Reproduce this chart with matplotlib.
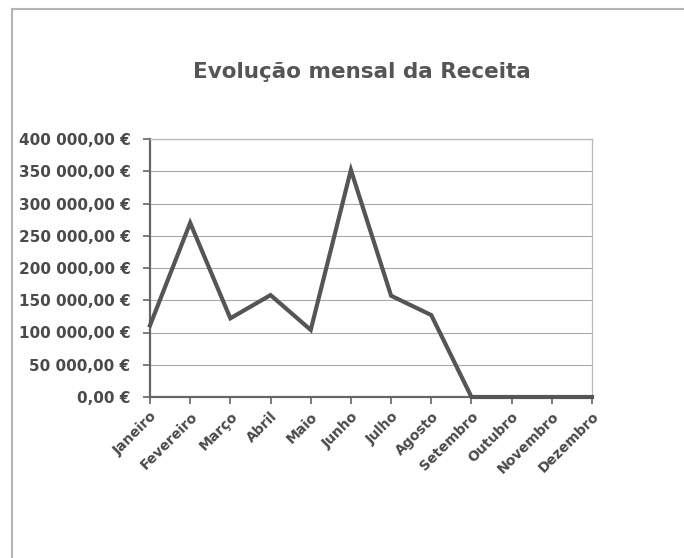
import matplotlib
matplotlib.use("Agg")
import matplotlib.pyplot as plt
from matplotlib.lines import Line2D
from matplotlib.ticker import FuncFormatter

meses = ["Janeiro", "Fevereiro", "Março", "Abril", "Maio", "Junho",
         "Julho", "Agosto", "Setembro", "Outubro", "Novembro", "Dezembro"]
receita = [111000, 270000, 122000, 158000, 104000, 352000,
           157000, 127000, 0, 0, 0, 0]
yticks = [0, 50000, 100000, 150000, 200000, 250000, 300000, 350000, 400000]

cinza = "#555555"

def euro(v, pos):
    s = "{:,.2f}".format(v).replace(",", " ").replace(".", ",")
    return s + " €"

fig = plt.figure(figsize=(6.84, 5.58), dpi=100)
ax = fig.add_axes([150/684, 1-397/558, 442/684, 258/558])

x = list(range(len(meses)))
ax.plot(x, receita, color=cinza, lw=3.0, solid_joinstyle="miter", zorder=3, clip_on=False)

ax.set_xlim(0, 11)
ax.set_ylim(0, 400000)
ax.set_yticks(yticks)
ax.yaxis.set_major_formatter(FuncFormatter(euro))
ax.set_xticks(x)
ax.set_xticklabels(meses, rotation=45, ha="right", va="top", rotation_mode="anchor")

ax.grid(axis="y", color="#a8a8a8", lw=0.8)
ax.set_axisbelow(True)

for s in ["left", "bottom"]:
    ax.spines[s].set_color("#666666")
    ax.spines[s].set_linewidth(1.6)
for s in ["top", "right"]:
    ax.spines[s].set_color("#b8b8b8")
    ax.spines[s].set_linewidth(0.9)

ax.tick_params(axis="both", direction="out", length=5, width=1.2, color="#666666",
               labelcolor="#4a4a4a")
ax.tick_params(axis="y", pad=9)
ax.tick_params(axis="x", pad=4)
for lab in ax.get_yticklabels():
    lab.set_fontweight("bold")
    lab.set_fontsize(11)
for lab in ax.get_xticklabels():
    lab.set_fontweight("bold")
    lab.set_fontsize(10)

fig.text(362/684, 1-72/558, "Evolução mensal da Receita", ha="center", va="center",
         fontsize=15.5, fontweight="bold", color=cinza)

# moldura do gráfico
fig.add_artist(Line2D([12/684, 1], [1-9/558, 1-9/558], color="#b5b5b5", lw=1.5))
fig.add_artist(Line2D([12/684, 12/684], [0, 1-9/558], color="#b5b5b5", lw=1.5))

fig.savefig("out.png", dpi=100)
